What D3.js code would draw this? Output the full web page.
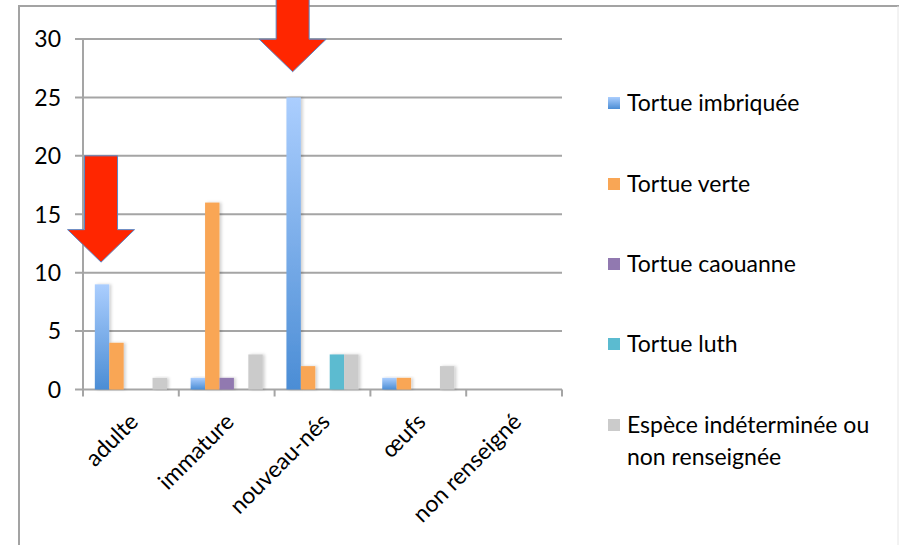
<!DOCTYPE html>
<html>
<head>
<meta charset="utf-8">
<script src="https://cdn.jsdelivr.net/npm/d3@7"></script>
<style>
  html, body { margin: 0; padding: 0; background: #ffffff; }
  svg { display: block; font-family: Lato, "Open Sans", sans-serif; }
</style>
</head>
<body>
<svg id="chart" width="899" height="545"></svg>
<script>
// ---- data ----
const categories = ["adulte", "immature", "nouveau-nés", "œufs", "non renseigné"];
const seriesNames = ["Tortue imbriquée", "Tortue verte", "Tortue caouanne", "Tortue luth", "Espèce indéterminée ou non renseignée"];
const imbriquee = [9, 1, 25, 1, 0];
const verte = [4, 16, 2, 1, 0];
const caouanne = [0, 1, 0, 0, 0];
const luth = [0, 0, 3, 0, 0];
const indeterminee = [1, 3, 3, 2, 0];
const yTicks = [0, 5, 10, 15, 20, 25, 30];
// annotation arrows: category pointed at, value at arrow tail and tip
const arrowCats = ["adulte", "nouveau-nés"];
const arrowTail = [20, 40];
const arrowTip = [10.9, 27.2];

const seriesValues = [imbriquee, verte, caouanne, luth, indeterminee];
const colors = ["url(#gradBlue)", "#f9a655", "#9179b0", "#5bbbd0", "#cbcbcb"];
const legendColors = ["url(#gradBlueLeg)", "#f9a655", "#9179b0", "#5bbbd0", "#cbcbcb"];
const FS = 23;

const svg = d3.select("#chart");
const defs = svg.append("defs");
const g1 = defs.append("linearGradient").attr("id", "gradBlue").attr("x1", 0).attr("y1", 0).attr("x2", 0).attr("y2", 1);
g1.append("stop").attr("offset", "0%").attr("stop-color", "#abcefe");
g1.append("stop").attr("offset", "100%").attr("stop-color", "#4b8dd5");
const g2 = defs.append("linearGradient").attr("id", "gradBlueLeg").attr("x1", 0).attr("y1", 0).attr("x2", 0).attr("y2", 1);
g2.append("stop").attr("offset", "0%").attr("stop-color", "#abcefe");
g2.append("stop").attr("offset", "100%").attr("stop-color", "#4b8dd5");
const f = defs.append("filter").attr("id", "shadow").attr("x", "-30%").attr("y", "-10%").attr("width", "180%").attr("height", "120%");
f.append("feDropShadow").attr("dx", 2).attr("dy", 0).attr("stdDeviation", 1.5).attr("flood-color", "#000").attr("flood-opacity", 0.18);

// frame
svg.append("line").attr("x1", 19).attr("x2", 19).attr("y1", 5).attr("y2", 545).attr("stroke", "#a3a3a3").attr("stroke-width", 2);
svg.append("line").attr("x1", 18).attr("x2", 899).attr("y1", 6).attr("y2", 6).attr("stroke", "#a3a3a3").attr("stroke-width", 2);
svg.append("line").attr("x1", 898).attr("x2", 898).attr("y1", 6).attr("y2", 545).attr("stroke", "#e6e6e6").attr("stroke-width", 1);

const x0 = 83, x1 = 562, yBottom = 389.5, yTop = 39;
const x = d3.scaleBand().domain(categories).range([x0, x1]).paddingInner(0).paddingOuter(0);
const xs = d3.scaleBand().domain(d3.range(seriesNames.length)).range([0, x.bandwidth()]).paddingInner(0).paddingOuter(0.82);
const y = d3.scaleLinear().domain([0, 30]).range([yBottom, yTop]);

const axisColor = "#a5a5a5";
// gridlines + y ticks
svg.append("g").selectAll("line").data(yTicks).join("line")
  .attr("x1", x0 - 8).attr("x2", x1).attr("y1", d => y(d)).attr("y2", d => y(d))
  .attr("stroke", axisColor).attr("stroke-width", 2);
// y axis line
svg.append("line").attr("x1", x0).attr("x2", x0).attr("y1", y(30)).attr("y2", yBottom + 7)
  .attr("stroke", axisColor).attr("stroke-width", 2);
// x ticks
const bounds = categories.map(c => x(c)).concat([x1]);
svg.append("g").selectAll("line").data(bounds.slice(1)).join("line")
  .attr("x1", d => d).attr("x2", d => d).attr("y1", yBottom).attr("y2", yBottom + 7)
  .attr("stroke", axisColor).attr("stroke-width", 2);

// y labels
svg.append("g").selectAll("text").data(yTicks).join("text")
  .attr("x", 61).attr("y", d => y(d)).attr("dy", "0.36em").attr("text-anchor", "end")
  .attr("font-size", FS).attr("fill", "#000").text(d => d);

// bars
const barData = [];
seriesValues.forEach((vals, si) => vals.forEach((v, ci) => { if (v > 0) barData.push({ si, c: categories[ci], v }); }));
svg.append("g").selectAll("rect").data(barData).join("rect")
  .attr("x", d => x(d.c) + xs(d.si))
  .attr("width", xs.bandwidth())
  .attr("y", d => y(d.v))
  .attr("height", d => y(0) - y(d.v))
  .attr("fill", d => colors[d.si])
  .attr("filter", "url(#shadow)");

// x labels
svg.append("g").selectAll("text").data(categories).join("text")
  .attr("transform", d => `translate(${x(d) + x.bandwidth() / 2 + 3},${yBottom + 28}) rotate(-45)`)
  .attr("text-anchor", "end").attr("dy", "0.35em")
  .attr("font-size", FS).attr("fill", "#000").text(d => d);

// arrows
const shaftHW = 16.5, headHW = 33.5, headH = 32.5;
arrowCats.forEach((c, i) => {
  const cx = x(c) + xs(0) + xs.bandwidth() / 2 - 1;
  const tipY = y(arrowTip[i]);
  const tailY = y(arrowTail[i]);
  const baseY = tipY - headH;
  const pts = [
    [cx - shaftHW, tailY], [cx + shaftHW, tailY], [cx + shaftHW, baseY], [cx + headHW, baseY],
    [cx, tipY], [cx - headHW, baseY], [cx - shaftHW, baseY]
  ];
  svg.append("path").attr("d", d3.line()(pts) + "Z")
    .attr("fill", "#ff2600").attr("stroke", "#5a86c5").attr("stroke-width", 1);
});

// legend
const legY = [103, 184, 264, 344, 425];
const leg = svg.append("g");
seriesNames.forEach((name, i) => {
  leg.append("rect").attr("x", 608).attr("y", legY[i] - 6).attr("width", 12).attr("height", 12)
    .attr("fill", legendColors[i]);
  const t = leg.append("text").attr("x", 627).attr("y", legY[i]).attr("dy", "0.36em")
    .attr("font-size", FS).attr("fill", "#000");
  if (i === 4) {
    t.append("tspan").attr("x", 627).text("Espèce indéterminée ou");
    t.append("tspan").attr("x", 627).attr("dy", 32).text("non renseignée");
  } else {
    t.text(name);
  }
});
</script>
</body>
</html>
